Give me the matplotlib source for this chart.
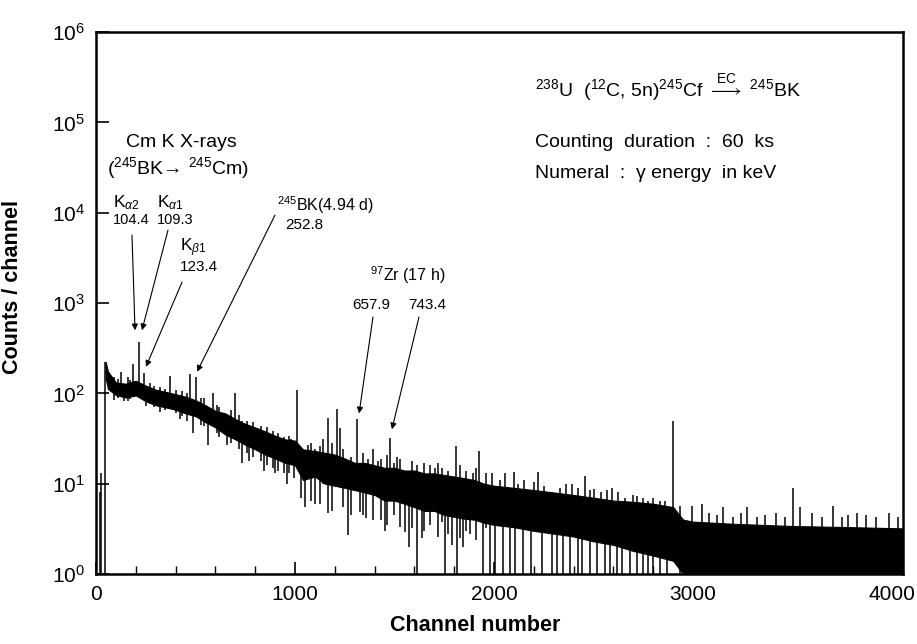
import numpy as np
import matplotlib
matplotlib.use("Agg")
import matplotlib.pyplot as plt

plt.rcParams['font.family'] = ['Liberation Sans', 'DejaVu Sans']
plt.rcParams['mathtext.fontset'] = 'custom'
plt.rcParams['mathtext.rm'] = 'Liberation Sans'
plt.rcParams['mathtext.it'] = 'Liberation Sans:italic'
plt.rcParams['mathtext.bf'] = 'Liberation Sans:bold'

# spectrum body: upper / lower edge of the dense band
env_ch = [48, 60, 100, 150, 200, 250, 300, 350, 400, 450, 500, 550, 600, 650, 700,
          750, 800, 850, 900, 950, 1000, 1040, 1100, 1150, 1200, 1250, 1300, 1350,
          1400, 1450, 1500, 1550, 1600, 1650, 1700, 1750, 1800, 1850, 1900, 1950, 2000,
          2100, 2200, 2300, 2400, 2500, 2600, 2700, 2800, 2900, 2950, 3000, 3200,
          3500, 3800, 4050]
env_hi = [224, 175, 132, 128, 138, 122, 110, 104, 98, 92, 84, 74, 64, 60, 52,
          46, 42, 38, 34, 31, 30, 24, 23, 22, 21, 19, 17, 17,
          16, 15, 15, 14, 14, 13, 13, 12.5, 12, 11.5, 11, 10, 9.5,
          9, 8.5, 8, 7.5, 7, 6.5, 6.3, 6, 5.5, 4.0, 3.8, 3.6,
          3.4, 3.3, 3.2]
env_lo = [150, 112, 96, 90, 95, 82, 74, 70, 66, 60, 56, 48, 42, 35, 31,
          27, 24, 21, 19, 17, 16, 11, 12, 10, 9.5, 9, 8.5, 8,
          7.5, 6.5, 6.5, 6, 5.5, 5, 5, 4.5, 4.3, 4.1, 4, 3.7, 3.5,
          3.3, 3.0, 2.8, 2.6, 2.3, 2.1, 1.8, 1.6, 1.4, 1, 1, 1,
          1, 1, 1]

# single-channel excursions (channel, low end, high end)
spike_ch = [22, 27, 46,
            124, 185, 216, 241, 372, 472, 502, 588, 633, 698, 734, 808, 874, 932, 980, 1010,
            141, 253, 422, 489, 563, 658, 734, 767, 842, 900, 960, 995,
            90, 110, 160, 170, 270, 290, 320, 345, 400, 430, 455, 530, 545, 610, 620, 680,
            720, 760, 790, 830, 860, 890, 915, 945, 970,
            1066, 1100, 1165, 1210, 1227, 1310, 1367, 1417, 1477, 1511, 1611, 1703, 1810,
            1894, 1925, 1988,
            1051, 1100, 1168, 1266, 1325, 1355, 1450, 1551, 1573, 1611, 1636, 1754, 1787,
            1813, 1846, 1880, 1945, 1980,
            1030, 1080, 1125, 1140, 1185, 1240, 1280, 1340, 1390, 1430, 1460, 1495, 1530,
            1590, 1650, 1680, 1720, 1740, 1770, 1830, 1860, 1910, 1960,
            2055, 2100, 2152, 2223, 2281, 2394, 2457, 2500, 2591, 2625, 2717, 2776, 2834,
            2900, 2935, 2993,
            2030, 2120, 2200, 2250, 2330, 2360, 2420, 2480, 2540, 2570, 2660, 2700, 2750,
            2800, 2860,
            2005, 2047, 2080, 2106, 2148, 2184, 2240, 2290, 2315, 2348, 2382, 2424, 2440,
            2483, 2516, 2558, 2583, 2617, 2642, 2684, 2717, 2750, 2776, 2801, 2834, 2868,
            3044, 3080, 3120, 3152, 3200, 3240, 3273, 3320, 3360, 3417, 3460, 3504, 3538,
            3600, 3650, 3702, 3750, 3780, 3822, 3870, 3920, 3985, 4030]
spike_lo = [1, 1, 1,
            110, 120, 110, 95, 85, 70, 65, 55, 45, 40, 35, 30, 25, 22, 20, 15,
            82, 72, 52, 36, 27, 27, 17, 18, 14, 13, 10, 11.7,
            85, 88, 82, 86, 76, 70, 62, 65, 60, 56, 50, 45, 44, 36, 33, 28,
            24, 22, 20, 18, 16, 15, 14, 13, 13,
            15, 14, 12, 12, 12, 10, 10, 9, 9, 8, 7, 6, 6,
            5, 5, 5,
            5.5, 6, 4.7, 2.7, 4.8, 4.2, 3.0, 2.9, 2.0, 1, 2.5, 1, 2.1,
            1, 2.0, 2.8, 1, 1,
            7, 6.5, 6, 10, 5, 5.5, 4.5, 4.5, 4, 4, 3.5, 4.5, 3.3,
            3.2, 3, 3.5, 2.6, 3.8, 2.8, 2.5, 3, 2.4, 3.2,
            4, 4, 4, 3.5, 3, 3, 3, 2.5, 2.5, 2.5, 2, 2, 2,
            1.5, 1, 1,
            3.5, 3.4, 3.2, 3.0, 2.9, 2.8, 2.7, 2.5, 2.4, 2.3, 2.0, 2.0, 1.8,
            1.7, 1.5,
            1, 1, 1, 1, 1, 1, 1, 1, 1, 1, 1, 1, 1,
            1, 1, 1, 1, 1, 1, 1, 1, 1, 1, 1, 1, 1,
            1, 1, 1, 1, 1, 1, 1, 1, 1, 1, 1, 1, 1,
            1, 1, 1, 1, 1, 1, 1, 1, 1, 1]
spike_hi = [8, 13, 224,
            174, 209, 372, 170, 154, 162, 150, 100, 56, 102, 49, 36, 35, 32, 31, 110,
            110, 100, 80, 70, 60, 50, 40, 38, 30, 28, 25, 25,
            150, 145, 150, 140, 130, 120, 118, 112, 110, 105, 100, 88, 90, 75, 70, 65,
            58, 50, 48, 44, 42, 38, 36, 33, 34,
            27, 24, 53, 68, 41, 52, 18.8, 18, 32, 20, 16, 15, 26,
            13, 23, 13,
            15, 14, 13, 12, 12, 11, 10, 9, 9, 8, 8, 7, 7,
            7, 6, 6, 6, 5,
            20, 28, 26, 31, 28, 24, 20, 22, 24, 19, 21, 17, 19,
            18, 17, 16, 17, 15, 14, 16, 14, 15, 13,
            13, 13.5, 11, 13.5, 8, 10, 12.2, 8.8, 9, 8, 7.4, 6.5, 6.5,
            50, 5.7, 5.7,
            11, 10, 10.5, 9.5, 9, 10, 9, 8.5, 8, 8.5, 7, 7.5, 7,
            7, 6.5,
            6, 6, 6, 5.5, 5.5, 5.5, 5, 5, 5, 5, 5, 4.5, 4.5,
            4.5, 4.5, 4, 4, 4, 4, 4, 4, 3.5, 3.5, 3.5, 3.5, 3.5,
            6, 4.7, 4.5, 5.5, 4.3, 4.7, 5.5, 4.3, 4.5, 4.7, 4.3, 9, 5.5,
            4.7, 4.3, 5.7, 4.3, 4.5, 4.7, 4.5, 4.3, 4.7, 4.3]

fig = plt.figure(figsize=(9.17, 6.44), dpi=100)
ax = fig.add_axes([0.1047, 0.1087, 0.8800, 0.8413])

ax.fill_between(env_ch, env_lo, env_hi, color='black', lw=0.8)
ax.vlines(spike_ch, spike_lo, spike_hi, color='black', lw=1.1)

ax.set_yscale('log')
ax.set_xlim(0, 4055)
ax.set_ylim(1, 1e6)
ax.set_xticks([0, 1000, 2000, 3000, 4000])
ax.set_xticks(np.arange(0, 4001, 200), minor=True)
ax.set_yticks([1, 10, 100, 1e3, 1e4, 1e5, 1e6])
ax.yaxis.set_minor_locator(matplotlib.ticker.NullLocator())
ax.tick_params(which='major', direction='in', length=9, width=1.2, labelsize=15, pad=8)
ax.tick_params(which='minor', direction='in', length=6, width=1.0)
for s in ax.spines.values():
    s.set_linewidth(1.8)

ax.set_xlabel('Channel number', fontsize=15.5, fontweight='bold', labelpad=10)
ax.xaxis.set_label_coords(0.47, -0.075)
ax.set_ylabel('Counts / channel', fontsize=15.5, fontweight='bold', labelpad=10)
ax.yaxis.set_label_coords(-0.09, 0.53)

# peak labels and arrows
tf = ax.transAxes
ax.text(0.1053, 0.797, 'Cm K X-rays', transform=tf, ha='center', va='center', fontsize=14)
ax.text(0.1016, 0.749, '($^{245}$BK\u2192 $^{245}$Cm)', transform=tf, ha='center', va='center', fontsize=14)
ax.text(0.021, 0.686, 'K$_{\\alpha2}$', transform=tf, ha='left', va='center', fontsize=12.5)
ax.text(0.021, 0.654, '104.4', transform=tf, ha='left', va='center', fontsize=10.5)
ax.text(0.0756, 0.686, 'K$_{\\alpha1}$', transform=tf, ha='left', va='center', fontsize=12.5)
ax.text(0.0756, 0.654, '109.3', transform=tf, ha='left', va='center', fontsize=10.5)
ax.text(0.104, 0.603, 'K$_{\\beta1}$', transform=tf, ha='left', va='center', fontsize=12.5)
ax.text(0.104, 0.566, '123.4', transform=tf, ha='left', va='center', fontsize=11)
ax.text(0.224, 0.681, '$^{245}$BK(4.94 d)', transform=tf, ha='left', va='center', fontsize=11.5)
ax.text(0.234, 0.644, '252.8', transform=tf, ha='left', va='center', fontsize=11)
ax.text(0.3395, 0.552, '$^{97}$Zr (17 h)', transform=tf, ha='left', va='center', fontsize=11.5)
ax.text(0.317, 0.496, '657.9', transform=tf, ha='left', va='center', fontsize=11)
ax.text(0.3866, 0.496, '743.4', transform=tf, ha='left', va='center', fontsize=11)

arrows = [((196, 500), (0.0446, 0.6255)),
          ((231, 500), (0.0892, 0.6347)),
          ((251, 197), (0.1066, 0.5387)),
          ((508, 174), (0.2218, 0.6624)),
          ((1322, 60), (0.3432, 0.4742)),
          ((1487, 40), (0.4002, 0.4742))]
for tip, start in arrows:
    ax.annotate('', xy=tip, xycoords='data', xytext=start, textcoords='axes fraction',
                arrowprops=dict(arrowstyle='-|>', color='black', lw=0.8,
                                mutation_scale=9, shrinkA=0, shrinkB=0))

ax.text(0.544, 0.897, '$^{238}$U  ($^{12}$C, 5n)$^{245}$Cf $\\overset{\\mathrm{EC}}{\\longrightarrow}$ $^{245}$BK',
        transform=tf, ha='left', va='center', fontsize=14)
ax.text(0.544, 0.797, 'Counting  duration  :  60  ks', transform=tf, ha='left', va='center', fontsize=14)
ax.text(0.544, 0.740, 'Numeral  :  \u03b3 energy  in keV', transform=tf, ha='left', va='center', fontsize=14)

plt.savefig('out.png', dpi=100)
